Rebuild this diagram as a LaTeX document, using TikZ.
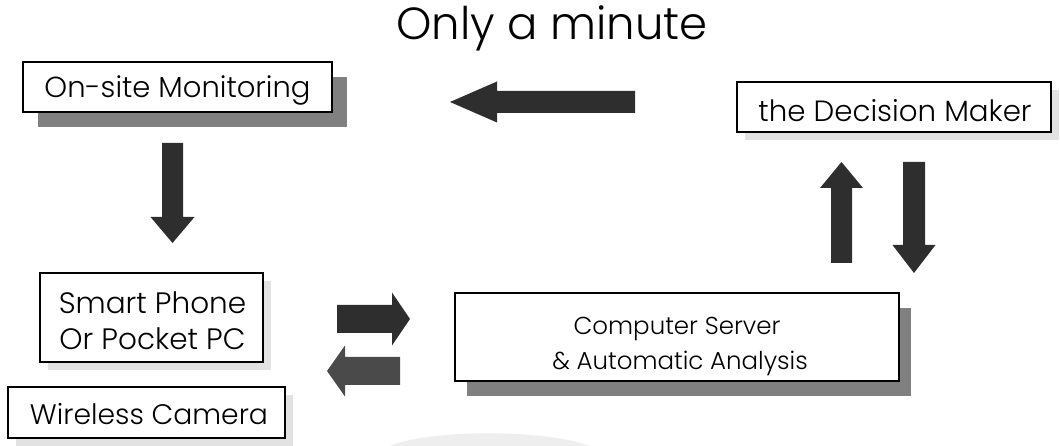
\documentclass[tikz,border=0pt]{standalone}
\usepackage{fontspec}
\setmainfont{Poppins}[UprightFont={* Light}]
\usetikzlibrary{shadows}

\definecolor{arrowdark}{HTML}{2E2E2E}
\definecolor{arrowmid}{HTML}{4A4A4A}
\definecolor{shadowdark}{HTML}{808080}
\definecolor{shadowlight}{HTML}{E2E2E2}
\definecolor{swoosh}{HTML}{EEEEEE}

% block arrow: tail point, direction angle, length, shaft width, head width, head length, colour
\newcommand{\blockarrow}[7]{%
  \fill[#7, shift={#1}, rotate=#2]
    (0,-#4/2) -- ({#3-#6},-#4/2) -- ({#3-#6},-#5/2) -- (#3,0)
    -- ({#3-#6},#5/2) -- ({#3-#6},#4/2) -- (0,#4/2) -- cycle;}

\tikzset{
  box/.style={draw=black, line width=1.2pt, fill=white, inner sep=0pt},
  boxtext/.style={anchor=base, inner sep=0pt, font=\fontsize{#1}{#1}\selectfont},
  deepshadow/.style={drop shadow={shadow xshift=#1, shadow yshift=-15pt,
    fill=shadowdark, opacity=1}},
  paleshadow/.style={drop shadow={shadow xshift=8pt, shadow yshift=-8pt,
    fill=shadowlight, opacity=1}},
}

\begin{document}
\begin{tikzpicture}[x=1pt, y=1pt]
\useasboundingbox (0,0) rectangle (1060,446);

% faint background swoosh
\fill[swoosh] (390,0) .. controls (430,17) and (545,17) .. (590,0) -- cycle;

% title
\node[boxtext=45] (title) at (552,406) {Only a minute};

% boxes
\node[box, deepshadow=15pt, minimum width=309pt, minimum height=50pt] (onsite) at (177.5,359) {};
\node[box, paleshadow, minimum width=314pt, minimum height=50pt] (decision) at (894,339) {};
\node[box, paleshadow, minimum width=223pt, minimum height=89pt] (phone) at (151.5,128.5) {};
\node[box, paleshadow, minimum width=277pt, minimum height=51pt] (camera) at (146.5,33.5) {};
\node[box, deepshadow=12pt, minimum width=444pt, minimum height=88pt] (server) at (677,109) {};

% box texts, set on their baselines
\node[boxtext=29] (onsite-t) at (onsite |- 0,348) {On-site Monitoring};
\node[boxtext=29.3] (decision-t) at (895,324) {the Decision Maker};
\node[boxtext=29.5] (phone-t1) at (152.5,132) {Smart Phone};
\node[boxtext=29.5] (phone-t2) at (152.5,96) {Or Pocket PC};
\node[boxtext=28.2] (camera-t) at (149,21) {Wireless Camera};
\node[boxtext=24.5] (server-t1) at (677,111) {Computer Server};
\node[boxtext=24.5] (server-t2) at (680,76) {\& Automatic Analysis};

% block arrows
\coordinate (a1) at (635,344);
\coordinate (a2) at (172.5,303);
\coordinate (a3) at (841.5,183);
\coordinate (a4) at (914,284);
\coordinate (a5) at (337,127);
\coordinate (a6) at (400,75);
\blockarrow{(a1)}{180}{185}{22}{41}{47}{arrowdark}
\blockarrow{(a2)}{-90}{100}{21}{44}{26}{arrowdark}
\blockarrow{(a3)}{90}{101}{21}{43}{26}{arrowdark}
\blockarrow{(a4)}{-90}{111}{22}{43}{28}{arrowdark}
\blockarrow{(a5)}{0}{73}{28}{53}{18}{arrowdark}
\blockarrow{(a6)}{180}{73}{28}{51}{18}{arrowmid}
\end{tikzpicture}
\end{document}
